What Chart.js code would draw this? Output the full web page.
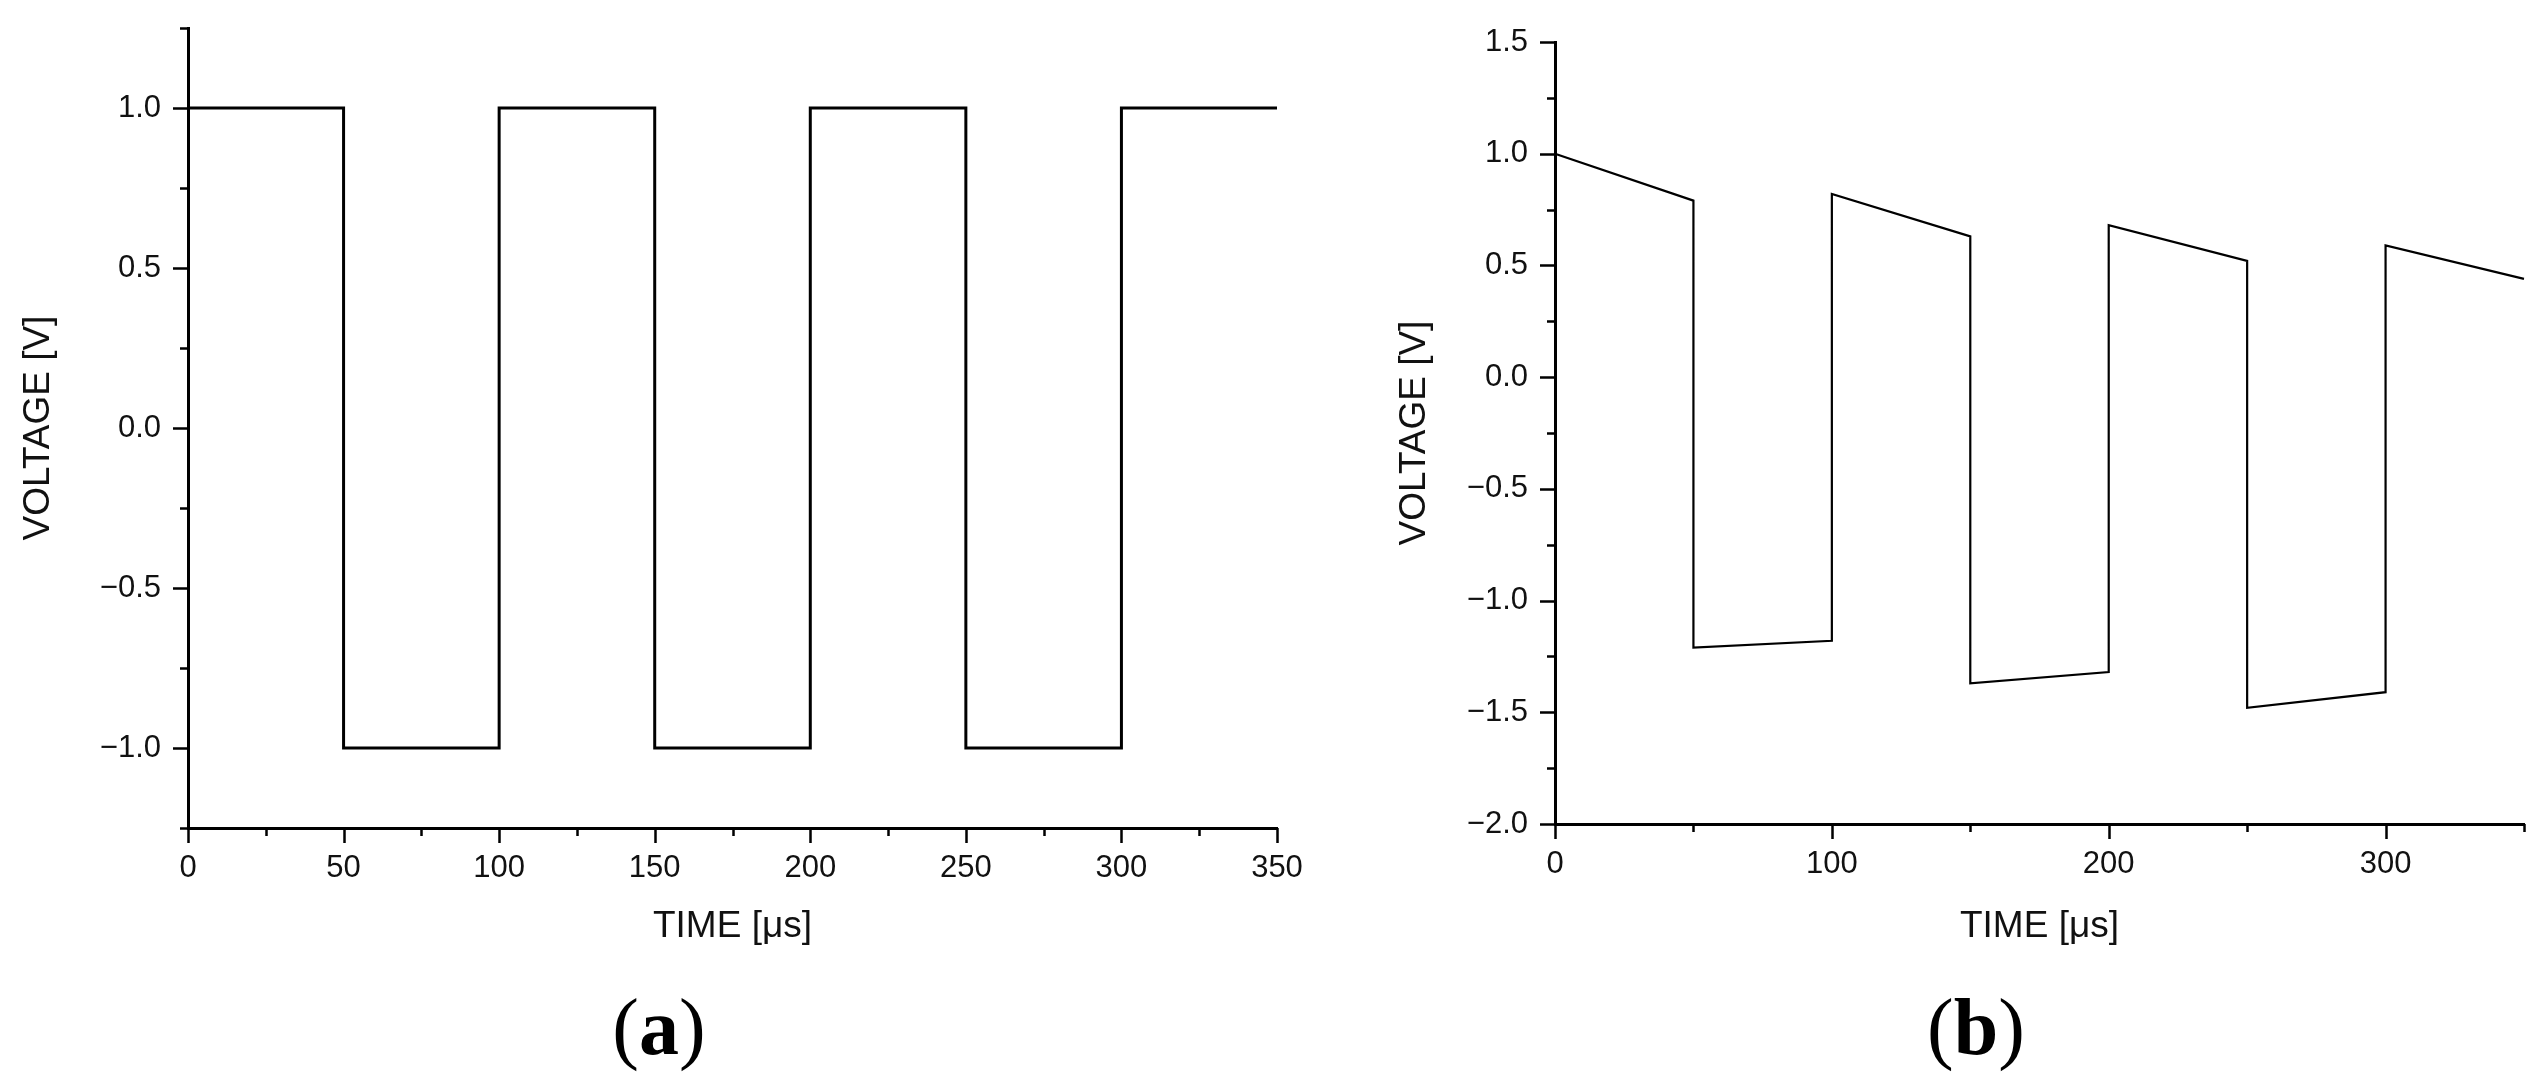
<!DOCTYPE html>
<html>
<head>
<meta charset="utf-8">
<script src="https://cdn.jsdelivr.net/npm/chart.js@4.4.1/dist/chart.umd.min.js"></script>
<style>
  body { margin: 0; background: #fff; width: 2544px; height: 1089px; overflow: hidden; position: relative; }
  canvas { position: absolute; top: 0; }
  .panel { position: absolute; top: 987px; transform: translateX(-50%); font: 80px/80px "Liberation Serif", "Times New Roman", serif; color: #000; white-space: nowrap; }
  .panel b { font-weight: bold; }
</style>
</head>
<body>
<canvas id="chartA" width="1330" height="1089" style="left:0"></canvas>
<canvas id="chartB" width="1214" height="1089" style="left:1330px"></canvas>
<div class="panel" style="left:659px">(<b>a</b>)</div>
<div class="panel" style="left:1976px">(<b>b</b>)</div>
<script>
// (a) ideal square wave
const timeA = [0, 50, 50, 100, 100, 150, 150, 200, 200, 250, 250, 300, 300, 350];
const voltA = [1.0, 1.0, -1.0, -1.0, 1.0, 1.0, -1.0, -1.0, 1.0, 1.0, -1.0, -1.0, 1.0, 1.0];
// (b) measured wave, drooping
const timeB = [0, 50, 50, 100, 100, 150, 150, 200, 200, 250, 250, 300, 300, 350];
const voltB = [1.0, 0.79, -1.21, -1.18, 0.82, 0.63, -1.37, -1.32, 0.68, 0.52, -1.48, -1.41, 0.59, 0.44];

const xTicksA = [0, 50, 100, 150, 200, 250, 300, 350];
const xMinorA = [25, 75, 125, 175, 225, 275, 325];
const yTicksA = [-1.0, -0.5, 0.0, 0.5, 1.0];
const yMinorA = [-1.25, -0.75, -0.25, 0.25, 0.75, 1.25];

const xTicksB = [0, 100, 200, 300];
const xMinorB = [50, 150, 250, 350];
const yTicksB = [-2.0, -1.5, -1.0, -0.5, 0.0, 0.5, 1.0, 1.5];
const yMinorB = [-1.75, -1.25, -0.75, -0.25, 0.25, 0.75, 1.25];

const FONT = '"Liberation Sans", Arial, sans-serif';
const INK = '#111';

// tick marks drawn off the scales (major long, minor short)
const tickMarks = {
  id: 'tickMarks',
  afterDraw(chart, args, opts) {
    const ctx = chart.ctx;
    const xs = chart.scales.x, ys = chart.scales.y;
    ctx.save();
    ctx.strokeStyle = '#000';
    ctx.lineWidth = 2.5;
    ctx.beginPath();
    const xLine = (v, len) => {
      const px = Math.round(xs.getPixelForValue(v)) + 0.5;
      ctx.moveTo(px, xs.top); ctx.lineTo(px, xs.top + len);
    };
    const yLine = (v, len) => {
      const py = Math.round(ys.getPixelForValue(v)) + 0.5;
      ctx.moveTo(ys.right, py); ctx.lineTo(ys.right - len, py);
    };
    opts.xMajor.forEach(v => xLine(v, 15));
    opts.xMinor.forEach(v => xLine(v, 8));
    opts.yMajor.forEach(v => yLine(v, 15));
    opts.yMinor.forEach(v => yLine(v, 8));
    ctx.stroke();
    ctx.restore();
  }
};

function fmtV(v) {
  const s = Math.abs(v).toFixed(1);
  return v < 0 ? '\u2212' + s : s;
}

function makeChart(id, p) {
  return new Chart(document.getElementById(id), {
    type: 'line',
    data: {
      datasets: [{
        data: p.time.map((t, i) => ({ x: t, y: p.volt[i] })),
        borderColor: '#000',
        borderWidth: p.lineWidth,
        borderJoinStyle: 'miter',
        pointRadius: 0,
        tension: 0,
        fill: false,
        clip: false
      }]
    },
    options: {
      responsive: false,
      animation: false,
      devicePixelRatio: 1,
      layout: { padding: { left: 0, top: p.top, right: p.right, bottom: 0 } },
      plugins: {
        legend: { display: false },
        tooltip: { enabled: false },
        tickMarks: { xMajor: p.xTicks, xMinor: p.xMinor, yMajor: p.yTicks, yMinor: p.yMinor }
      },
      scales: {
        x: {
          type: 'linear',
          min: 0, max: 350,
          border: { display: true, color: '#000', width: 3 },
          grid: { drawOnChartArea: false, drawTicks: false },
          afterBuildTicks: s => { s.ticks = p.xTicks.map(v => ({ value: v })); },
          afterFit: s => { s.height = 1089 - p.bottom; s.paddingLeft = 0; s.paddingRight = 0; },
          ticks: { autoSkip: false, maxRotation: 0, padding: 22, color: INK, font: { family: FONT, size: 31 },
                   callback: v => String(v) },
          title: { display: true, text: 'TIME [\u03BCs]', color: INK, font: { family: FONT, size: 37 },
                   padding: { top: 0, bottom: 140 } }
        },
        y: {
          type: 'linear',
          min: p.yMin, max: p.yMax,
          border: { display: true, color: '#000', width: 3 },
          grid: { drawOnChartArea: false, drawTicks: false },
          afterBuildTicks: s => { s.ticks = p.yTicks.map(v => ({ value: v })); },
          afterFit: s => { s.width = p.left; s.paddingTop = 0; s.paddingBottom = 0; },
          ticks: { autoSkip: false, padding: 27, color: INK, font: { family: FONT, size: 31 },
                   callback: v => fmtV(v) },
          title: { display: true, text: 'VOLTAGE [V]', color: INK, font: { family: FONT, size: 37 },
                   padding: { top: p.yTitlePad, bottom: 0 } }
        }
      }
    },
    plugins: [tickMarks]
  });
}

makeChart('chartA', {
  time: timeA, volt: voltA, lineWidth: 3,
  xTicks: xTicksA, xMinor: xMinorA, yTicks: yTicksA, yMinor: yMinorA,
  yMin: -1.25, yMax: 1.25,
  left: 188, top: 28, right: 53, bottom: 828, yTitlePad: 17
});

makeChart('chartB', {
  time: timeB, volt: voltB, lineWidth: 2.2,
  xTicks: xTicksB, xMinor: xMinorB, yTicks: yTicksB, yMinor: yMinorB,
  yMin: -2.0, yMax: 1.5,
  left: 225, top: 42, right: 20, bottom: 824, yTitlePad: 63
});
</script>
</body>
</html>
